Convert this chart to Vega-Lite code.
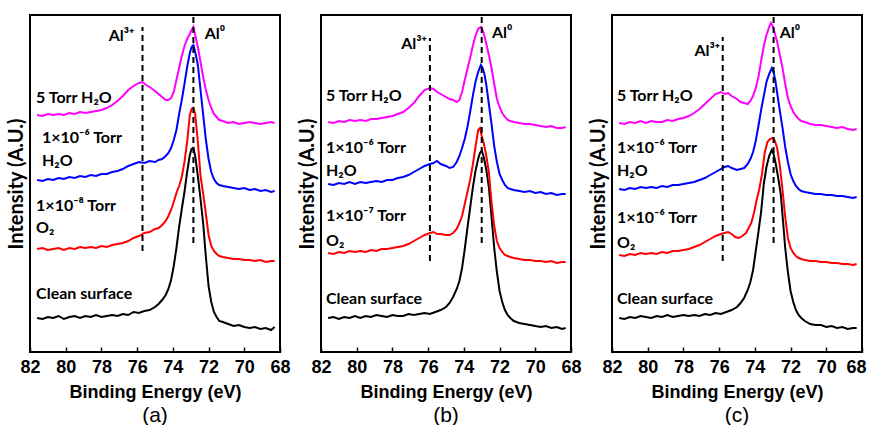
{
"$schema":"https://vega.github.io/schema/vega-lite/v6.json",
"padding":{"left":5,"top":13,"right":0,"bottom":0},
"background":"white",
"spacing":41,
"bounds":"flush",
"datasets":{
"a":[
{"c":"k","e":81.6,"v":34},{"c":"k","e":81.3,"v":33},{"c":"k","e":81.0,"v":35},{"c":"k","e":80.7,"v":34},{"c":"k","e":80.4,"v":36},{"c":"k","e":80.1,"v":33},{"c":"k","e":79.8,"v":35},{"c":"k","e":79.5,"v":36},{"c":"k","e":79.2,"v":34},{"c":"k","e":78.9,"v":36},{"c":"k","e":78.6,"v":35},{"c":"k","e":78.3,"v":37},{"c":"k","e":78.0,"v":35},{"c":"k","e":77.7,"v":36},{"c":"k","e":77.4,"v":37},{"c":"k","e":77.1,"v":36},{"c":"k","e":76.8,"v":38},{"c":"k","e":76.5,"v":37},{"c":"k","e":76.2,"v":40},{"c":"k","e":75.9,"v":39},{"c":"k","e":75.6,"v":41},{"c":"k","e":75.3,"v":42},{"c":"k","e":75.0,"v":45},{"c":"k","e":74.8,"v":48},{"c":"k","e":74.6,"v":52},{"c":"k","e":74.4,"v":57},{"c":"k","e":74.25,"v":63},{"c":"k","e":74.1,"v":72},{"c":"k","e":73.95,"v":86},{"c":"k","e":73.8,"v":104},{"c":"k","e":73.65,"v":125},{"c":"k","e":73.5,"v":143},{"c":"k","e":73.35,"v":160},{"c":"k","e":73.2,"v":180},{"c":"k","e":73.05,"v":197},{"c":"k","e":72.95,"v":203},{"c":"k","e":72.85,"v":204},{"c":"k","e":72.75,"v":196},{"c":"k","e":72.6,"v":176},{"c":"k","e":72.45,"v":153},{"c":"k","e":72.3,"v":128},{"c":"k","e":72.15,"v":95},{"c":"k","e":72.0,"v":66},{"c":"k","e":71.85,"v":50},{"c":"k","e":71.7,"v":40},{"c":"k","e":71.55,"v":35},{"c":"k","e":71.4,"v":31},{"c":"k","e":71.2,"v":30},{"c":"k","e":70.9,"v":28},{"c":"k","e":70.6,"v":26},{"c":"k","e":70.3,"v":27},{"c":"k","e":70.0,"v":25},{"c":"k","e":69.7,"v":24},{"c":"k","e":69.4,"v":25},{"c":"k","e":69.1,"v":23},{"c":"k","e":68.8,"v":24},{"c":"k","e":68.5,"v":22},{"c":"k","e":68.3,"v":25},
{"c":"r","e":81.6,"v":103},{"c":"r","e":81.3,"v":104},{"c":"r","e":81.0,"v":102},{"c":"r","e":80.7,"v":103},{"c":"r","e":80.4,"v":104},{"c":"r","e":80.1,"v":102},{"c":"r","e":79.8,"v":104},{"c":"r","e":79.5,"v":103},{"c":"r","e":79.2,"v":105},{"c":"r","e":78.9,"v":104},{"c":"r","e":78.6,"v":105},{"c":"r","e":78.3,"v":104},{"c":"r","e":78.0,"v":106},{"c":"r","e":77.7,"v":105},{"c":"r","e":77.4,"v":107},{"c":"r","e":77.1,"v":108},{"c":"r","e":76.8,"v":109},{"c":"r","e":76.5,"v":111},{"c":"r","e":76.2,"v":114},{"c":"r","e":75.9,"v":116},{"c":"r","e":75.6,"v":119},{"c":"r","e":75.3,"v":120},{"c":"r","e":75.0,"v":123},{"c":"r","e":74.8,"v":124},{"c":"r","e":74.6,"v":127},{"c":"r","e":74.4,"v":131},{"c":"r","e":74.25,"v":136},{"c":"r","e":74.1,"v":142},{"c":"r","e":73.95,"v":150},{"c":"r","e":73.8,"v":159},{"c":"r","e":73.65,"v":166},{"c":"r","e":73.5,"v":175},{"c":"r","e":73.35,"v":190},{"c":"r","e":73.2,"v":210},{"c":"r","e":73.05,"v":237},{"c":"r","e":72.95,"v":243},{"c":"r","e":72.85,"v":244},{"c":"r","e":72.75,"v":238},{"c":"r","e":72.6,"v":210},{"c":"r","e":72.45,"v":176},{"c":"r","e":72.3,"v":158},{"c":"r","e":72.15,"v":138},{"c":"r","e":72.0,"v":117},{"c":"r","e":71.85,"v":106},{"c":"r","e":71.7,"v":101},{"c":"r","e":71.55,"v":98},{"c":"r","e":71.4,"v":96},{"c":"r","e":71.2,"v":95},{"c":"r","e":70.9,"v":94},{"c":"r","e":70.6,"v":93},{"c":"r","e":70.3,"v":93},{"c":"r","e":70.0,"v":92},{"c":"r","e":69.7,"v":92},{"c":"r","e":69.4,"v":91},{"c":"r","e":69.1,"v":92},{"c":"r","e":68.8,"v":90},{"c":"r","e":68.5,"v":91},{"c":"r","e":68.3,"v":91},
{"c":"b","e":81.6,"v":172},{"c":"b","e":81.3,"v":171},{"c":"b","e":81.0,"v":173},{"c":"b","e":80.7,"v":172},{"c":"b","e":80.4,"v":174},{"c":"b","e":80.1,"v":173},{"c":"b","e":79.8,"v":175},{"c":"b","e":79.5,"v":174},{"c":"b","e":79.2,"v":176},{"c":"b","e":78.9,"v":175},{"c":"b","e":78.6,"v":177},{"c":"b","e":78.3,"v":176},{"c":"b","e":78.0,"v":178},{"c":"b","e":77.7,"v":178},{"c":"b","e":77.4,"v":180},{"c":"b","e":77.1,"v":181},{"c":"b","e":76.8,"v":183},{"c":"b","e":76.5,"v":186},{"c":"b","e":76.2,"v":188},{"c":"b","e":75.9,"v":190},{"c":"b","e":75.6,"v":189},{"c":"b","e":75.3,"v":191},{"c":"b","e":75.0,"v":190},{"c":"b","e":74.8,"v":192},{"c":"b","e":74.6,"v":193},{"c":"b","e":74.4,"v":196},{"c":"b","e":74.25,"v":199},{"c":"b","e":74.1,"v":204},{"c":"b","e":73.95,"v":212},{"c":"b","e":73.8,"v":222},{"c":"b","e":73.65,"v":238},{"c":"b","e":73.5,"v":252},{"c":"b","e":73.35,"v":268},{"c":"b","e":73.2,"v":285},{"c":"b","e":73.05,"v":299},{"c":"b","e":72.95,"v":305},{"c":"b","e":72.85,"v":307},{"c":"b","e":72.75,"v":300},{"c":"b","e":72.6,"v":287},{"c":"b","e":72.45,"v":262},{"c":"b","e":72.3,"v":237},{"c":"b","e":72.15,"v":212},{"c":"b","e":72.0,"v":193},{"c":"b","e":71.85,"v":180},{"c":"b","e":71.7,"v":173},{"c":"b","e":71.55,"v":169},{"c":"b","e":71.4,"v":167},{"c":"b","e":71.2,"v":166},{"c":"b","e":70.9,"v":165},{"c":"b","e":70.6,"v":164},{"c":"b","e":70.3,"v":163},{"c":"b","e":70.0,"v":164},{"c":"b","e":69.7,"v":162},{"c":"b","e":69.4,"v":163},{"c":"b","e":69.1,"v":161},{"c":"b","e":68.8,"v":162},{"c":"b","e":68.5,"v":160},{"c":"b","e":68.3,"v":161},
{"c":"m","e":81.6,"v":237},{"c":"m","e":81.3,"v":236},{"c":"m","e":81.0,"v":238},{"c":"m","e":80.7,"v":237},{"c":"m","e":80.4,"v":238},{"c":"m","e":80.1,"v":237},{"c":"m","e":79.8,"v":239},{"c":"m","e":79.5,"v":238},{"c":"m","e":79.2,"v":240},{"c":"m","e":78.9,"v":239},{"c":"m","e":78.6,"v":240},{"c":"m","e":78.3,"v":241},{"c":"m","e":78.0,"v":242},{"c":"m","e":77.7,"v":244},{"c":"m","e":77.4,"v":247},{"c":"m","e":77.1,"v":251},{"c":"m","e":76.8,"v":256},{"c":"m","e":76.5,"v":262},{"c":"m","e":76.2,"v":266},{"c":"m","e":75.9,"v":269},{"c":"m","e":75.7,"v":270},{"c":"m","e":75.5,"v":267},{"c":"m","e":75.3,"v":265},{"c":"m","e":75.0,"v":261},{"c":"m","e":74.8,"v":258},{"c":"m","e":74.6,"v":255},{"c":"m","e":74.4,"v":252},{"c":"m","e":74.25,"v":252},{"c":"m","e":74.1,"v":254},{"c":"m","e":73.95,"v":260},{"c":"m","e":73.8,"v":272},{"c":"m","e":73.65,"v":284},{"c":"m","e":73.5,"v":296},{"c":"m","e":73.35,"v":306},{"c":"m","e":73.2,"v":313},{"c":"m","e":73.05,"v":318},{"c":"m","e":72.95,"v":322},{"c":"m","e":72.85,"v":325},{"c":"m","e":72.75,"v":317},{"c":"m","e":72.6,"v":305},{"c":"m","e":72.45,"v":290},{"c":"m","e":72.3,"v":275},{"c":"m","e":72.15,"v":262},{"c":"m","e":72.0,"v":252},{"c":"m","e":71.85,"v":244},{"c":"m","e":71.7,"v":238},{"c":"m","e":71.55,"v":235},{"c":"m","e":71.4,"v":232},{"c":"m","e":71.2,"v":231},{"c":"m","e":70.9,"v":229},{"c":"m","e":70.6,"v":230},{"c":"m","e":70.3,"v":228},{"c":"m","e":70.0,"v":229},{"c":"m","e":69.7,"v":230},{"c":"m","e":69.4,"v":229},{"c":"m","e":69.1,"v":228},{"c":"m","e":68.8,"v":229},{"c":"m","e":68.5,"v":230},{"c":"m","e":68.3,"v":229}
],
"b":[
{"c":"k","e":81.6,"v":34},{"c":"k","e":81.3,"v":35},{"c":"k","e":81.0,"v":33},{"c":"k","e":80.7,"v":35},{"c":"k","e":80.4,"v":34},{"c":"k","e":80.1,"v":36},{"c":"k","e":79.8,"v":34},{"c":"k","e":79.5,"v":36},{"c":"k","e":79.2,"v":35},{"c":"k","e":78.9,"v":37},{"c":"k","e":78.6,"v":36},{"c":"k","e":78.3,"v":35},{"c":"k","e":78.0,"v":37},{"c":"k","e":77.7,"v":36},{"c":"k","e":77.4,"v":36},{"c":"k","e":77.1,"v":38},{"c":"k","e":76.8,"v":37},{"c":"k","e":76.5,"v":38},{"c":"k","e":76.2,"v":39},{"c":"k","e":75.9,"v":38},{"c":"k","e":75.6,"v":40},{"c":"k","e":75.3,"v":42},{"c":"k","e":75.0,"v":45},{"c":"k","e":74.8,"v":49},{"c":"k","e":74.6,"v":55},{"c":"k","e":74.4,"v":63},{"c":"k","e":74.25,"v":71},{"c":"k","e":74.1,"v":84},{"c":"k","e":73.95,"v":103},{"c":"k","e":73.8,"v":124},{"c":"k","e":73.65,"v":144},{"c":"k","e":73.5,"v":164},{"c":"k","e":73.35,"v":181},{"c":"k","e":73.2,"v":193},{"c":"k","e":73.1,"v":199},{"c":"k","e":73.0,"v":201},{"c":"k","e":72.9,"v":196},{"c":"k","e":72.75,"v":183},{"c":"k","e":72.6,"v":165},{"c":"k","e":72.45,"v":135},{"c":"k","e":72.3,"v":104},{"c":"k","e":72.15,"v":80},{"c":"k","e":72.0,"v":61},{"c":"k","e":71.85,"v":50},{"c":"k","e":71.7,"v":42},{"c":"k","e":71.55,"v":37},{"c":"k","e":71.4,"v":34},{"c":"k","e":71.2,"v":31},{"c":"k","e":70.9,"v":29},{"c":"k","e":70.6,"v":28},{"c":"k","e":70.3,"v":27},{"c":"k","e":70.0,"v":26},{"c":"k","e":69.7,"v":25},{"c":"k","e":69.4,"v":26},{"c":"k","e":69.1,"v":24},{"c":"k","e":68.8,"v":25},{"c":"k","e":68.5,"v":23},{"c":"k","e":68.3,"v":24},
{"c":"r","e":81.6,"v":99},{"c":"r","e":81.3,"v":98},{"c":"r","e":81.0,"v":100},{"c":"r","e":80.7,"v":99},{"c":"r","e":80.4,"v":101},{"c":"r","e":80.1,"v":100},{"c":"r","e":79.8,"v":101},{"c":"r","e":79.5,"v":100},{"c":"r","e":79.2,"v":102},{"c":"r","e":78.9,"v":101},{"c":"r","e":78.6,"v":103},{"c":"r","e":78.3,"v":103},{"c":"r","e":78.0,"v":104},{"c":"r","e":77.7,"v":105},{"c":"r","e":77.4,"v":106},{"c":"r","e":77.1,"v":108},{"c":"r","e":76.8,"v":111},{"c":"r","e":76.5,"v":114},{"c":"r","e":76.2,"v":117},{"c":"r","e":75.9,"v":119},{"c":"r","e":75.7,"v":120},{"c":"r","e":75.5,"v":118},{"c":"r","e":75.3,"v":118},{"c":"r","e":75.0,"v":117},{"c":"r","e":74.8,"v":117},{"c":"r","e":74.6,"v":119},{"c":"r","e":74.4,"v":123},{"c":"r","e":74.25,"v":129},{"c":"r","e":74.1,"v":136},{"c":"r","e":73.95,"v":148},{"c":"r","e":73.8,"v":160},{"c":"r","e":73.65,"v":172},{"c":"r","e":73.5,"v":187},{"c":"r","e":73.35,"v":205},{"c":"r","e":73.2,"v":222},{"c":"r","e":73.1,"v":224},{"c":"r","e":73.0,"v":216},{"c":"r","e":72.9,"v":210},{"c":"r","e":72.75,"v":197},{"c":"r","e":72.6,"v":180},{"c":"r","e":72.45,"v":150},{"c":"r","e":72.3,"v":126},{"c":"r","e":72.15,"v":111},{"c":"r","e":72.0,"v":104},{"c":"r","e":71.85,"v":100},{"c":"r","e":71.7,"v":97},{"c":"r","e":71.55,"v":96},{"c":"r","e":71.4,"v":95},{"c":"r","e":71.2,"v":94},{"c":"r","e":70.9,"v":93},{"c":"r","e":70.6,"v":92},{"c":"r","e":70.3,"v":92},{"c":"r","e":70.0,"v":91},{"c":"r","e":69.7,"v":91},{"c":"r","e":69.4,"v":90},{"c":"r","e":69.1,"v":91},{"c":"r","e":68.8,"v":89},{"c":"r","e":68.5,"v":90},{"c":"r","e":68.3,"v":90},
{"c":"b","e":81.6,"v":168},{"c":"b","e":81.3,"v":167},{"c":"b","e":81.0,"v":169},{"c":"b","e":80.7,"v":168},{"c":"b","e":80.4,"v":170},{"c":"b","e":80.1,"v":168},{"c":"b","e":79.8,"v":170},{"c":"b","e":79.5,"v":169},{"c":"b","e":79.2,"v":170},{"c":"b","e":78.9,"v":171},{"c":"b","e":78.6,"v":170},{"c":"b","e":78.3,"v":172},{"c":"b","e":78.0,"v":172},{"c":"b","e":77.7,"v":174},{"c":"b","e":77.4,"v":175},{"c":"b","e":77.1,"v":177},{"c":"b","e":76.8,"v":180},{"c":"b","e":76.5,"v":183},{"c":"b","e":76.2,"v":186},{"c":"b","e":75.9,"v":188},{"c":"b","e":75.7,"v":189},{"c":"b","e":75.5,"v":191},{"c":"b","e":75.3,"v":188},{"c":"b","e":75.0,"v":186},{"c":"b","e":74.8,"v":184},{"c":"b","e":74.6,"v":185},{"c":"b","e":74.4,"v":190},{"c":"b","e":74.25,"v":196},{"c":"b","e":74.1,"v":204},{"c":"b","e":73.95,"v":213},{"c":"b","e":73.8,"v":225},{"c":"b","e":73.65,"v":240},{"c":"b","e":73.5,"v":256},{"c":"b","e":73.35,"v":270},{"c":"b","e":73.2,"v":280},{"c":"b","e":73.05,"v":287},{"c":"b","e":72.95,"v":284},{"c":"b","e":72.85,"v":278},{"c":"b","e":72.75,"v":268},{"c":"b","e":72.6,"v":248},{"c":"b","e":72.45,"v":228},{"c":"b","e":72.3,"v":206},{"c":"b","e":72.15,"v":190},{"c":"b","e":72.0,"v":178},{"c":"b","e":71.85,"v":172},{"c":"b","e":71.7,"v":167},{"c":"b","e":71.55,"v":164},{"c":"b","e":71.4,"v":163},{"c":"b","e":71.2,"v":162},{"c":"b","e":70.9,"v":161},{"c":"b","e":70.6,"v":160},{"c":"b","e":70.3,"v":161},{"c":"b","e":70.0,"v":159},{"c":"b","e":69.7,"v":160},{"c":"b","e":69.4,"v":158},{"c":"b","e":69.1,"v":159},{"c":"b","e":68.8,"v":157},{"c":"b","e":68.5,"v":158},{"c":"b","e":68.3,"v":158},
{"c":"m","e":81.6,"v":230},{"c":"m","e":81.3,"v":229},{"c":"m","e":81.0,"v":231},{"c":"m","e":80.7,"v":230},{"c":"m","e":80.4,"v":232},{"c":"m","e":80.1,"v":231},{"c":"m","e":79.8,"v":232},{"c":"m","e":79.5,"v":231},{"c":"m","e":79.2,"v":233},{"c":"m","e":78.9,"v":233},{"c":"m","e":78.6,"v":234},{"c":"m","e":78.3,"v":235},{"c":"m","e":78.0,"v":236},{"c":"m","e":77.7,"v":238},{"c":"m","e":77.4,"v":240},{"c":"m","e":77.1,"v":244},{"c":"m","e":76.8,"v":249},{"c":"m","e":76.5,"v":256},{"c":"m","e":76.2,"v":262},{"c":"m","e":75.9,"v":264},{"c":"m","e":75.7,"v":263},{"c":"m","e":75.5,"v":260},{"c":"m","e":75.3,"v":258},{"c":"m","e":75.0,"v":255},{"c":"m","e":74.8,"v":253},{"c":"m","e":74.6,"v":252},{"c":"m","e":74.4,"v":250},{"c":"m","e":74.25,"v":252},{"c":"m","e":74.1,"v":260},{"c":"m","e":73.95,"v":272},{"c":"m","e":73.8,"v":283},{"c":"m","e":73.65,"v":294},{"c":"m","e":73.5,"v":306},{"c":"m","e":73.35,"v":316},{"c":"m","e":73.2,"v":323},{"c":"m","e":73.05,"v":325},{"c":"m","e":72.95,"v":322},{"c":"m","e":72.85,"v":316},{"c":"m","e":72.75,"v":309},{"c":"m","e":72.6,"v":297},{"c":"m","e":72.45,"v":284},{"c":"m","e":72.3,"v":268},{"c":"m","e":72.15,"v":253},{"c":"m","e":72.0,"v":245},{"c":"m","e":71.85,"v":239},{"c":"m","e":71.7,"v":235},{"c":"m","e":71.55,"v":232},{"c":"m","e":71.4,"v":231},{"c":"m","e":71.2,"v":230},{"c":"m","e":70.9,"v":229},{"c":"m","e":70.6,"v":228},{"c":"m","e":70.3,"v":228},{"c":"m","e":70.0,"v":227},{"c":"m","e":69.7,"v":226},{"c":"m","e":69.4,"v":225},{"c":"m","e":69.1,"v":226},{"c":"m","e":68.8,"v":224},{"c":"m","e":68.5,"v":224},{"c":"m","e":68.3,"v":225}
],
"c":[
{"c":"k","e":81.6,"v":34},{"c":"k","e":81.3,"v":33},{"c":"k","e":81.0,"v":35},{"c":"k","e":80.7,"v":34},{"c":"k","e":80.4,"v":36},{"c":"k","e":80.1,"v":35},{"c":"k","e":79.8,"v":34},{"c":"k","e":79.5,"v":36},{"c":"k","e":79.2,"v":35},{"c":"k","e":78.9,"v":37},{"c":"k","e":78.6,"v":35},{"c":"k","e":78.3,"v":36},{"c":"k","e":78.0,"v":37},{"c":"k","e":77.7,"v":36},{"c":"k","e":77.4,"v":37},{"c":"k","e":77.1,"v":36},{"c":"k","e":76.8,"v":38},{"c":"k","e":76.5,"v":37},{"c":"k","e":76.2,"v":39},{"c":"k","e":75.9,"v":38},{"c":"k","e":75.6,"v":40},{"c":"k","e":75.3,"v":42},{"c":"k","e":75.0,"v":45},{"c":"k","e":74.8,"v":49},{"c":"k","e":74.6,"v":54},{"c":"k","e":74.4,"v":62},{"c":"k","e":74.25,"v":70},{"c":"k","e":74.1,"v":82},{"c":"k","e":73.95,"v":101},{"c":"k","e":73.8,"v":120},{"c":"k","e":73.65,"v":140},{"c":"k","e":73.5,"v":168},{"c":"k","e":73.35,"v":185},{"c":"k","e":73.2,"v":196},{"c":"k","e":73.05,"v":202},{"c":"k","e":72.95,"v":198},{"c":"k","e":72.85,"v":190},{"c":"k","e":72.7,"v":175},{"c":"k","e":72.55,"v":158},{"c":"k","e":72.4,"v":126},{"c":"k","e":72.3,"v":104},{"c":"k","e":72.15,"v":80},{"c":"k","e":72.0,"v":61},{"c":"k","e":71.85,"v":50},{"c":"k","e":71.7,"v":42},{"c":"k","e":71.55,"v":37},{"c":"k","e":71.4,"v":34},{"c":"k","e":71.2,"v":31},{"c":"k","e":70.9,"v":28},{"c":"k","e":70.6,"v":27},{"c":"k","e":70.3,"v":27},{"c":"k","e":70.0,"v":25},{"c":"k","e":69.7,"v":26},{"c":"k","e":69.4,"v":24},{"c":"k","e":69.1,"v":25},{"c":"k","e":68.8,"v":23},{"c":"k","e":68.5,"v":24},{"c":"k","e":68.3,"v":24},
{"c":"r","e":81.6,"v":97},{"c":"r","e":81.3,"v":96},{"c":"r","e":81.0,"v":98},{"c":"r","e":80.7,"v":97},{"c":"r","e":80.4,"v":99},{"c":"r","e":80.1,"v":98},{"c":"r","e":79.8,"v":99},{"c":"r","e":79.5,"v":98},{"c":"r","e":79.2,"v":100},{"c":"r","e":78.9,"v":99},{"c":"r","e":78.6,"v":101},{"c":"r","e":78.3,"v":101},{"c":"r","e":78.0,"v":102},{"c":"r","e":77.7,"v":103},{"c":"r","e":77.4,"v":105},{"c":"r","e":77.1,"v":107},{"c":"r","e":76.8,"v":110},{"c":"r","e":76.5,"v":113},{"c":"r","e":76.2,"v":116},{"c":"r","e":75.9,"v":118},{"c":"r","e":75.7,"v":119},{"c":"r","e":75.5,"v":120},{"c":"r","e":75.3,"v":118},{"c":"r","e":75.1,"v":115},{"c":"r","e":74.9,"v":114},{"c":"r","e":74.7,"v":116},{"c":"r","e":74.5,"v":119},{"c":"r","e":74.35,"v":124},{"c":"r","e":74.2,"v":129},{"c":"r","e":74.05,"v":139},{"c":"r","e":73.9,"v":152},{"c":"r","e":73.75,"v":163},{"c":"r","e":73.6,"v":178},{"c":"r","e":73.45,"v":199},{"c":"r","e":73.3,"v":210},{"c":"r","e":73.15,"v":213},{"c":"r","e":73.0,"v":214},{"c":"r","e":72.9,"v":212},{"c":"r","e":72.75,"v":204},{"c":"r","e":72.6,"v":186},{"c":"r","e":72.45,"v":162},{"c":"r","e":72.3,"v":135},{"c":"r","e":72.15,"v":114},{"c":"r","e":72.0,"v":104},{"c":"r","e":71.85,"v":99},{"c":"r","e":71.7,"v":96},{"c":"r","e":71.55,"v":94},{"c":"r","e":71.4,"v":93},{"c":"r","e":71.2,"v":92},{"c":"r","e":70.9,"v":91},{"c":"r","e":70.6,"v":91},{"c":"r","e":70.3,"v":90},{"c":"r","e":70.0,"v":90},{"c":"r","e":69.7,"v":89},{"c":"r","e":69.4,"v":89},{"c":"r","e":69.1,"v":88},{"c":"r","e":68.8,"v":88},{"c":"r","e":68.5,"v":87},{"c":"r","e":68.3,"v":88},
{"c":"b","e":81.6,"v":163},{"c":"b","e":81.3,"v":162},{"c":"b","e":81.0,"v":164},{"c":"b","e":80.7,"v":163},{"c":"b","e":80.4,"v":165},{"c":"b","e":80.1,"v":164},{"c":"b","e":79.8,"v":165},{"c":"b","e":79.5,"v":164},{"c":"b","e":79.2,"v":166},{"c":"b","e":78.9,"v":165},{"c":"b","e":78.6,"v":167},{"c":"b","e":78.3,"v":167},{"c":"b","e":78.0,"v":168},{"c":"b","e":77.7,"v":169},{"c":"b","e":77.4,"v":170},{"c":"b","e":77.1,"v":172},{"c":"b","e":76.8,"v":174},{"c":"b","e":76.5,"v":177},{"c":"b","e":76.2,"v":180},{"c":"b","e":75.9,"v":183},{"c":"b","e":75.7,"v":185},{"c":"b","e":75.5,"v":186},{"c":"b","e":75.3,"v":184},{"c":"b","e":75.0,"v":182},{"c":"b","e":74.8,"v":183},{"c":"b","e":74.6,"v":184},{"c":"b","e":74.4,"v":188},{"c":"b","e":74.25,"v":193},{"c":"b","e":74.1,"v":200},{"c":"b","e":73.95,"v":211},{"c":"b","e":73.8,"v":226},{"c":"b","e":73.65,"v":242},{"c":"b","e":73.5,"v":256},{"c":"b","e":73.35,"v":270},{"c":"b","e":73.2,"v":278},{"c":"b","e":73.05,"v":284},{"c":"b","e":72.95,"v":280},{"c":"b","e":72.85,"v":271},{"c":"b","e":72.75,"v":259},{"c":"b","e":72.6,"v":241},{"c":"b","e":72.45,"v":224},{"c":"b","e":72.3,"v":205},{"c":"b","e":72.15,"v":190},{"c":"b","e":72.0,"v":178},{"c":"b","e":71.85,"v":171},{"c":"b","e":71.7,"v":166},{"c":"b","e":71.55,"v":163},{"c":"b","e":71.4,"v":161},{"c":"b","e":71.2,"v":160},{"c":"b","e":70.9,"v":159},{"c":"b","e":70.6,"v":158},{"c":"b","e":70.3,"v":158},{"c":"b","e":70.0,"v":157},{"c":"b","e":69.7,"v":157},{"c":"b","e":69.4,"v":156},{"c":"b","e":69.1,"v":156},{"c":"b","e":68.8,"v":155},{"c":"b","e":68.5,"v":154},{"c":"b","e":68.3,"v":155},
{"c":"m","e":81.6,"v":229},{"c":"m","e":81.3,"v":228},{"c":"m","e":81.0,"v":230},{"c":"m","e":80.7,"v":229},{"c":"m","e":80.4,"v":231},{"c":"m","e":80.1,"v":229},{"c":"m","e":79.8,"v":231},{"c":"m","e":79.5,"v":230},{"c":"m","e":79.2,"v":230},{"c":"m","e":78.9,"v":232},{"c":"m","e":78.6,"v":231},{"c":"m","e":78.3,"v":233},{"c":"m","e":78.0,"v":234},{"c":"m","e":77.7,"v":236},{"c":"m","e":77.4,"v":239},{"c":"m","e":77.1,"v":243},{"c":"m","e":76.8,"v":248},{"c":"m","e":76.5,"v":253},{"c":"m","e":76.2,"v":258},{"c":"m","e":75.9,"v":260},{"c":"m","e":75.7,"v":258},{"c":"m","e":75.5,"v":259},{"c":"m","e":75.3,"v":256},{"c":"m","e":75.0,"v":253},{"c":"m","e":74.8,"v":250},{"c":"m","e":74.6,"v":249},{"c":"m","e":74.4,"v":248},{"c":"m","e":74.25,"v":251},{"c":"m","e":74.1,"v":256},{"c":"m","e":73.95,"v":264},{"c":"m","e":73.8,"v":275},{"c":"m","e":73.65,"v":291},{"c":"m","e":73.5,"v":306},{"c":"m","e":73.35,"v":317},{"c":"m","e":73.2,"v":325},{"c":"m","e":73.1,"v":329},{"c":"m","e":73.0,"v":326},{"c":"m","e":72.9,"v":320},{"c":"m","e":72.75,"v":310},{"c":"m","e":72.6,"v":297},{"c":"m","e":72.45,"v":284},{"c":"m","e":72.3,"v":268},{"c":"m","e":72.15,"v":254},{"c":"m","e":72.0,"v":246},{"c":"m","e":71.85,"v":240},{"c":"m","e":71.7,"v":236},{"c":"m","e":71.55,"v":233},{"c":"m","e":71.4,"v":231},{"c":"m","e":71.2,"v":230},{"c":"m","e":70.9,"v":228},{"c":"m","e":70.6,"v":227},{"c":"m","e":70.3,"v":227},{"c":"m","e":70.0,"v":226},{"c":"m","e":69.7,"v":225},{"c":"m","e":69.4,"v":224},{"c":"m","e":69.1,"v":225},{"c":"m","e":68.8,"v":223},{"c":"m","e":68.5,"v":222},{"c":"m","e":68.3,"v":223}
],
"labels":[
{"p":"a","t":"Al³⁺","e":76.15,"v":316,"al":"r"},{"p":"a","t":"Al⁰","e":72.22,"v":318,"al":"l"},{"p":"a","t":"5 Torr H₂O","e":81.66,"v":254,"al":"l"},{"p":"a","t":"1×10⁻⁶ Torr","e":81.33,"v":214,"al":"l"},{"p":"a","t":"H₂O","e":81.33,"v":191,"al":"l"},{"p":"a","t":"1×10⁻⁸ Torr","e":81.66,"v":146,"al":"l"},{"p":"a","t":"O₂","e":81.66,"v":124,"al":"l"},{"p":"a","t":"Clean surface","e":81.66,"v":58,"al":"l"},
{"p":"b","t":"Al³⁺","e":76.07,"v":308,"al":"r"},{"p":"b","t":"Al⁰","e":72.43,"v":319,"al":"l"},{"p":"b","t":"5 Torr H₂O","e":81.72,"v":256,"al":"l"},{"p":"b","t":"1×10⁻⁶ Torr","e":81.72,"v":204,"al":"l"},{"p":"b","t":"H₂O","e":81.72,"v":181,"al":"l"},{"p":"b","t":"1×10⁻⁷ Torr","e":81.72,"v":136,"al":"l"},{"p":"b","t":"O₂","e":81.72,"v":111,"al":"l"},{"p":"b","t":"Clean surface","e":81.72,"v":53,"al":"l"},
{"p":"c","t":"Al³⁺","e":75.94,"v":301,"al":"r"},{"p":"c","t":"Al⁰","e":72.61,"v":319,"al":"l"},{"p":"c","t":"5 Torr H₂O","e":81.72,"v":256,"al":"l"},{"p":"c","t":"1×10⁻⁶ Torr","e":81.72,"v":204,"al":"l"},{"p":"c","t":"H₂O","e":81.72,"v":181,"al":"l"},{"p":"c","t":"1×10⁻⁶ Torr","e":81.72,"v":134,"al":"l"},{"p":"c","t":"O₂","e":81.72,"v":109,"al":"l"},{"p":"c","t":"Clean surface","e":81.72,"v":53,"al":"l"}
],
"refs":[
{"p":"a","e":75.7,"v1":101,"v2":325},{"p":"a","e":72.85,"v1":109,"v2":337},
{"p":"b","e":75.9,"v1":91,"v2":314},{"p":"b","e":73.0,"v1":109,"v2":337},
{"p":"c","e":75.8,"v1":91,"v2":315},{"p":"c","e":72.95,"v1":109,"v2":337}
]
},
"config":{
"view":{"stroke":"#000","strokeWidth":2},
"title":{"font":"Liberation Sans","fontSize":21,"fontWeight":"normal","color":"#000","orient":"bottom","anchor":"middle","offset":0},
"axisX":{"titleFont":"Liberation Sans","titleFontSize":18,"titleFontWeight":"bold","titleColor":"#000","titlePadding":7,"labelFont":"Liberation Sans","labelFontSize":18,"labelFontWeight":"bold","labelColor":"#000","labelFlush":false,"labelPadding":11,"labelOverlap":false,"values":[82,81,80,79,78,77,76,75,74,73,72,71,70,69,68],"labelExpr":"datum.value % 2 == 0 ? datum.label : ''","tickSize":-5,"tickColor":"#000","tickWidth":1.5,"domain":false,"grid":false},
"axisY":{"titleFont":"Lato","titleFontSize":20,"titleFontWeight":"bold","titleColor":"#000","titlePadding":4,"labels":false,"ticks":false,"domain":false,"grid":false},
"text":{"font":"Lato, DejaVu Sans","fontSize":16,"fontWeight":"bold","color":"#000","baseline":"middle"}
},
"hconcat":[
{"width":250,"height":337,"title":"(a)","layer":[
{"data":{"name":"a"},"mark":{"type":"line","strokeWidth":2},"encoding":{"x":{"field":"e","type":"quantitative","title":"Binding Energy (eV)","scale":{"domain":[68,82],"reverse":true,"nice":false,"zero":false}},"y":{"field":"v","type":"quantitative","title":"Intensity (A.U.)","scale":{"domain":[0,337],"nice":false,"zero":false}},"color":{"field":"c","type":"nominal","scale":{"domain":["m","b","r","k"],"range":["#ff00ff","#0000ff","#ff0000","#000000"]},"legend":null}}},
{"data":{"name":"refs"},"transform":[{"filter":"datum.p == 'a'"}],"mark":{"type":"rule","strokeDash":[6,4],"strokeWidth":2,"color":"#000"},"encoding":{"x":{"field":"e","type":"quantitative","title":"Binding Energy (eV)"},"y":{"field":"v1","type":"quantitative","title":"Intensity (A.U.)"},"y2":{"field":"v2"}}},
{"data":{"name":"labels"},"transform":[{"filter":"datum.p == 'a' && datum.al == 'l'"}],"mark":{"type":"text","align":"left"},"encoding":{"x":{"field":"e","type":"quantitative","title":"Binding Energy (eV)"},"y":{"field":"v","type":"quantitative","title":"Intensity (A.U.)"},"text":{"field":"t"}}},
{"data":{"name":"labels"},"transform":[{"filter":"datum.p == 'a' && datum.al == 'r'"}],"mark":{"type":"text","align":"right"},"encoding":{"x":{"field":"e","type":"quantitative","title":"Binding Energy (eV)"},"y":{"field":"v","type":"quantitative","title":"Intensity (A.U.)"},"text":{"field":"t"}}}
]},
{"width":250,"height":337,"title":"(b)","layer":[
{"data":{"name":"b"},"mark":{"type":"line","strokeWidth":2},"encoding":{"x":{"field":"e","type":"quantitative","title":"Binding Energy (eV)","scale":{"domain":[68,82],"reverse":true,"nice":false,"zero":false}},"y":{"field":"v","type":"quantitative","title":"Intensity (A.U.)","scale":{"domain":[0,337],"nice":false,"zero":false}},"color":{"field":"c","type":"nominal","scale":{"domain":["m","b","r","k"],"range":["#ff00ff","#0000ff","#ff0000","#000000"]},"legend":null}}},
{"data":{"name":"refs"},"transform":[{"filter":"datum.p == 'b'"}],"mark":{"type":"rule","strokeDash":[6,4],"strokeWidth":2,"color":"#000"},"encoding":{"x":{"field":"e","type":"quantitative","title":"Binding Energy (eV)"},"y":{"field":"v1","type":"quantitative","title":"Intensity (A.U.)"},"y2":{"field":"v2"}}},
{"data":{"name":"labels"},"transform":[{"filter":"datum.p == 'b' && datum.al == 'l'"}],"mark":{"type":"text","align":"left"},"encoding":{"x":{"field":"e","type":"quantitative","title":"Binding Energy (eV)"},"y":{"field":"v","type":"quantitative","title":"Intensity (A.U.)"},"text":{"field":"t"}}},
{"data":{"name":"labels"},"transform":[{"filter":"datum.p == 'b' && datum.al == 'r'"}],"mark":{"type":"text","align":"right"},"encoding":{"x":{"field":"e","type":"quantitative","title":"Binding Energy (eV)"},"y":{"field":"v","type":"quantitative","title":"Intensity (A.U.)"},"text":{"field":"t"}}}
]},
{"width":250,"height":337,"title":"(c)","layer":[
{"data":{"name":"c"},"mark":{"type":"line","strokeWidth":2},"encoding":{"x":{"field":"e","type":"quantitative","title":"Binding Energy (eV)","scale":{"domain":[68,82],"reverse":true,"nice":false,"zero":false},"axis":{"labelOffset":{"condition":{"test":"datum.value == 68","value":-6},"value":0}}},"y":{"field":"v","type":"quantitative","title":"Intensity (A.U.)","scale":{"domain":[0,337],"nice":false,"zero":false}},"color":{"field":"c","type":"nominal","scale":{"domain":["m","b","r","k"],"range":["#ff00ff","#0000ff","#ff0000","#000000"]},"legend":null}}},
{"data":{"name":"refs"},"transform":[{"filter":"datum.p == 'c'"}],"mark":{"type":"rule","strokeDash":[6,4],"strokeWidth":2,"color":"#000"},"encoding":{"x":{"field":"e","type":"quantitative","title":"Binding Energy (eV)"},"y":{"field":"v1","type":"quantitative","title":"Intensity (A.U.)"},"y2":{"field":"v2"}}},
{"data":{"name":"labels"},"transform":[{"filter":"datum.p == 'c' && datum.al == 'l'"}],"mark":{"type":"text","align":"left"},"encoding":{"x":{"field":"e","type":"quantitative","title":"Binding Energy (eV)"},"y":{"field":"v","type":"quantitative","title":"Intensity (A.U.)"},"text":{"field":"t"}}},
{"data":{"name":"labels"},"transform":[{"filter":"datum.p == 'c' && datum.al == 'r'"}],"mark":{"type":"text","align":"right"},"encoding":{"x":{"field":"e","type":"quantitative","title":"Binding Energy (eV)"},"y":{"field":"v","type":"quantitative","title":"Intensity (A.U.)"},"text":{"field":"t"}}}
]}
]
}
